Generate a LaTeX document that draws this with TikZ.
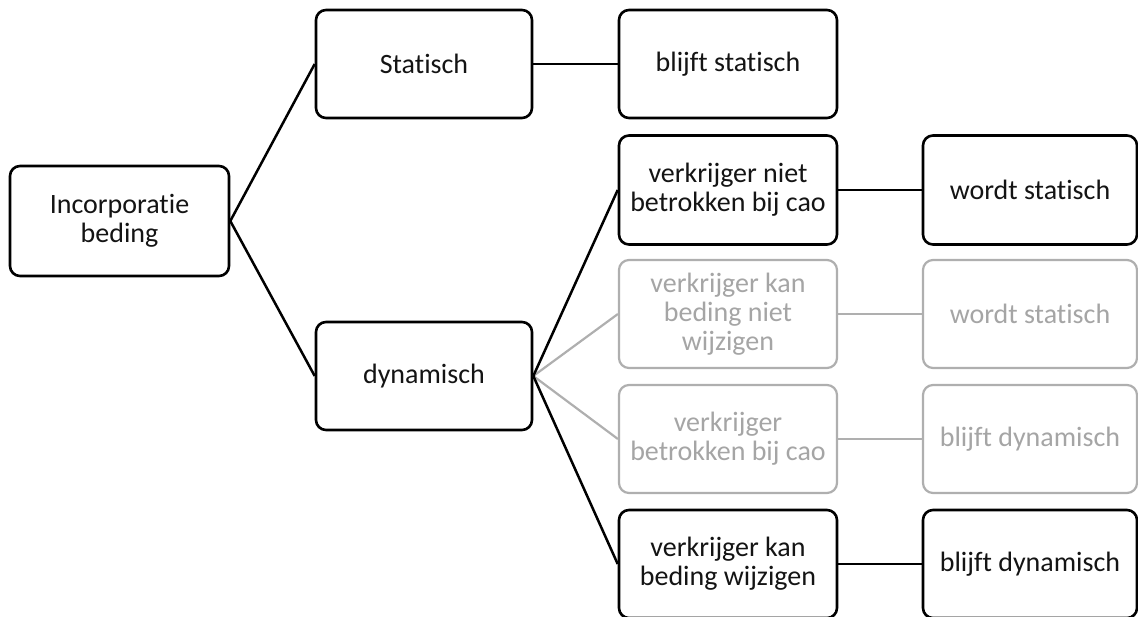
\documentclass[tikz,border=0pt]{standalone}
\usepackage{fontspec}
\setmainfont[RawFeature={-liga;-clig;-dlig;-calt}]{Carlito}
\newcommand{\nl}{\kern0pt}% breaks an unwanted ligature
\definecolor{ink}{RGB}{20,20,20}
\definecolor{faded}{RGB}{175,175,175}
\definecolor{fadedtext}{RGB}{165,165,165}
\tikzset{
  box/.style={draw=black, line width=2.6pt, rounded corners=10pt, fill=white,
    align=center, text=ink, inner sep=2pt,
    font=\fontsize{28}{29}\selectfont},
  fadedbox/.style={box, draw=faded, text=fadedtext, line width=2.2pt},
  link/.style={line width=2.5pt, draw=black},
  fadedlink/.style={line width=2.2pt, draw=faded},
}
\begin{document}
\begin{tikzpicture}[x=1pt, y=-1pt]
  \clip (0,0) rectangle (1138,617);
  \useasboundingbox (0,0) rectangle (1138,617);

  % root and first split
  \node[box, minimum width=219pt, minimum height=110pt] (root) at (119.5,221) {Incorporatie\\beding};
  \node[box, minimum width=216pt, minimum height=108pt] (stat) at (424,64) {Statisch};
  \node[box, minimum width=216pt, minimum height=108pt] (dyn) at (424,376) {dynamisch};

  % conditions
  \node[box, minimum width=218pt, minimum height=108pt] (bs) at (728,64) {blijf\nl t statisch};
  \node[box, minimum width=218pt, minimum height=109pt] (c1) at (728,190) {verkrijger niet\\betrokken bij cao};
  \node[fadedbox, minimum width=218pt, minimum height=108pt] (c2) at (728,314) {verkrijger kan\\beding niet\\wijzigen};
  \node[fadedbox, minimum width=218pt, minimum height=108pt] (c3) at (728,439) {verkrijger\\betrokken bij cao};
  \node[box, minimum width=218pt, minimum height=108pt] (c4) at (728,564) {verkrijger kan\\beding wijzigen};

  % outcomes
  \node[box, minimum width=214pt, minimum height=109pt] (r1) at (1030,190) {wordt statisch};
  \node[fadedbox, minimum width=214pt, minimum height=108pt] (r2) at (1030,314) {wordt statisch};
  \node[fadedbox, minimum width=214pt, minimum height=108pt] (r3) at (1030,439) {blijf\nl t dynamisch};
  \node[box, minimum width=214pt, minimum height=108pt] (r4) at (1030,564) {blijf\nl t dynamisch};

  % connectors
  \draw[link] (root.east) -- (stat.west);
  \draw[link] (root.east) -- (dyn.west);
  \draw[link] (stat.east) -- (bs.west);
  \draw[fadedlink] (dyn.east) -- (c2.west);
  \draw[fadedlink] (dyn.east) -- (c3.west);
  \draw[link] (dyn.east) -- (c1.west);
  \draw[link] (dyn.east) -- (c4.west);
  \draw[link] (c1.east) -- (r1.west);
  \draw[fadedlink] (c2.east) -- (r2.west);
  \draw[fadedlink] (c3.east) -- (r3.west);
  \draw[link] (c4.east) -- (r4.west);
\end{tikzpicture}
\end{document}
